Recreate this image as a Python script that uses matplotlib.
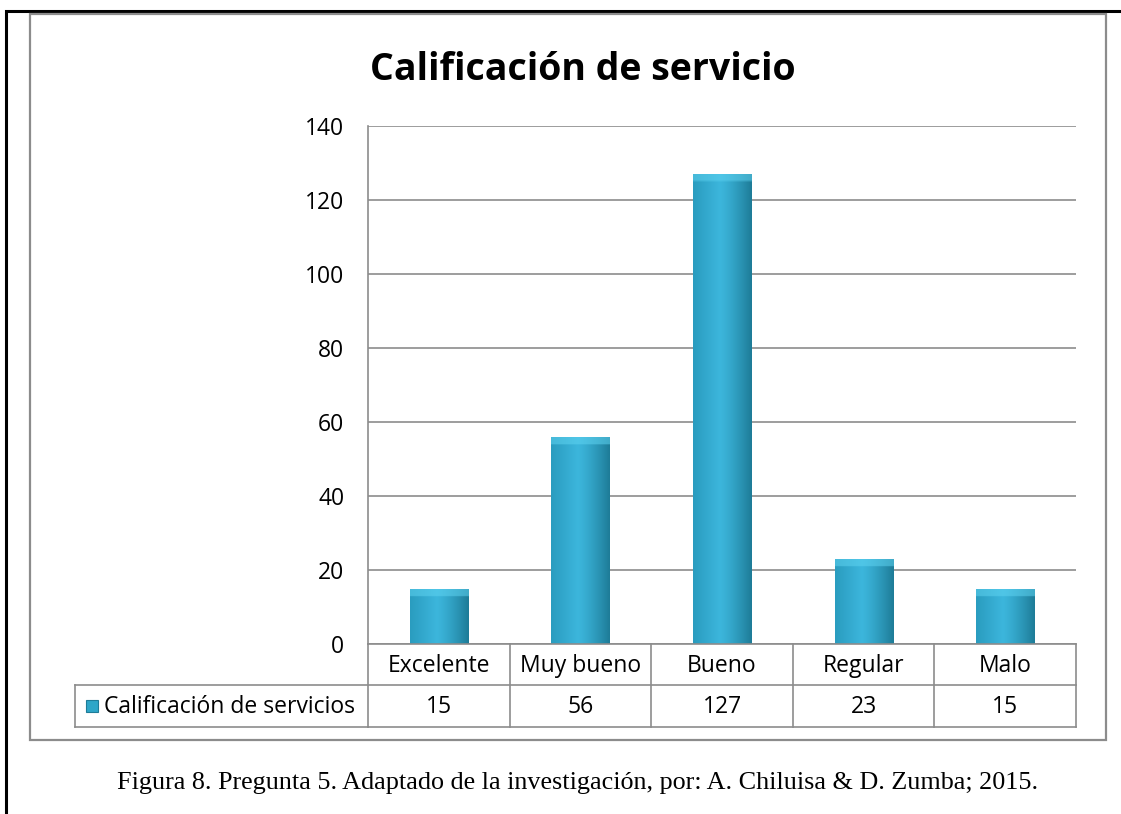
import numpy as np
import matplotlib
matplotlib.use("Agg")
import matplotlib.pyplot as plt
from matplotlib.lines import Line2D
from matplotlib.patches import Rectangle
from matplotlib.transforms import blended_transform_factory

categories = ["Excelente", "Muy bueno", "Bueno", "Regular", "Malo"]
values = [15, 56, 127, 23, 15]
series_name = "Calificación de servicios"
title = "Calificación de servicio"
caption = "Figura 8. Pregunta 5. Adaptado de la investigación, por: A. Chiluisa & D. Zumba; 2015."
yticks = [0, 20, 40, 60, 80, 100, 120, 140]

W, H = 1121, 814
fig = plt.figure(figsize=(W / 100, H / 100), dpi=100)
fig.patch.set_facecolor("white")

def fx(x):
    return x / W

def fy(y):
    return 1 - y / H

FONT = "Open Sans"
FS = 16.5
GRID = "#8c8c8c"

# outer black frame and inner grey chart frame
fig.add_artist(Rectangle((fx(6), fy(830)), fx(1130) - fx(6), fy(11) - fy(830),
                         transform=fig.transFigure, fill=False, ec="black", lw=2.2))
fig.add_artist(Rectangle((fx(30), fy(740)), fx(1106) - fx(30), fy(14) - fy(740),
                         transform=fig.transFigure, fill=False, ec="#8c8c8c", lw=1.6))

# plot area
ax = fig.add_axes([fx(368), fy(644), fx(1076) - fx(368), fy(126) - fy(644)])
ax.set_xlim(-0.5, len(categories) - 0.5)
ax.set_ylim(0, 140)
ax.set_yticks(yticks)
ax.set_yticklabels([str(t) for t in yticks], fontsize=FS, family=FONT)
ax.tick_params(axis="y", length=0, pad=17)
ax.set_xticks([])
for s in ["top", "right", "bottom"]:
    ax.spines[s].set_visible(False)
ax.spines["left"].set_color(GRID)
ax.spines["left"].set_linewidth(1.2)
ax.grid(axis="y", color=GRID, lw=1.2)
ax.set_axisbelow(True)

x = np.arange(len(categories))
bars = ax.bar(x, values, width=0.41, color="#2ea6c8", zorder=3)

# gradient fill on each bar
prof_x = np.linspace(0, 1, 60)
c_light = np.array([0x3c, 0xb6, 0xdc]) / 255
c_dark = np.array([0x1e, 0x7c, 0x98]) / 255
c_left = np.array([0x2a, 0x9c, 0xbf]) / 255
for b in bars:
    x0, w, h = b.get_x(), b.get_width(), b.get_height()
    n = 200
    img = np.zeros((n, 60, 3))
    for j, t in enumerate(prof_x):
        if t < 0.45:
            c = c_left + (c_light - c_left) * (t / 0.45)
        else:
            c = c_light + (c_dark - c_light) * ((t - 0.45) / 0.55) ** 1.3
        img[:, j, :] = c
    px_per_unit = (644 - 126) / 140
    bevel = max(1, int(round(n * (8 / px_per_unit) / h)))
    top_col = np.array([0x5e, 0xd2, 0xf0]) / 255
    for i in range(min(bevel, n)):
        img[i] = img[i] * 0.45 + top_col * 0.55
    im = ax.imshow(img, extent=(x0, x0 + w, 0, h), aspect="auto", zorder=4,
                   interpolation="bilinear", origin="upper")
    im.set_clip_path(b)
ax.set_xlim(-0.5, len(categories) - 0.5)
ax.set_ylim(0, 140)

# data table below the plot
bt = blended_transform_factory(ax.transData, fig.transFigure)
y_top, y_mid, y_bot = fy(644), fy(685), fy(727)
bounds = np.arange(len(categories) + 1) - 0.5
lw_t = 1.2
fig.add_artist(Line2D([-0.5, len(categories) - 0.5], [y_top, y_top], transform=bt, color=GRID, lw=lw_t))
fig.add_artist(Line2D([-0.5, len(categories) - 0.5], [y_bot, y_bot], transform=bt, color=GRID, lw=lw_t))
fig.add_artist(Line2D([fx(75), fx(1076)], [y_mid, y_mid], transform=fig.transFigure, color=GRID, lw=lw_t))
fig.add_artist(Line2D([fx(75), fx(368)], [y_bot, y_bot], transform=fig.transFigure, color=GRID, lw=lw_t))
fig.add_artist(Line2D([fx(75), fx(75)], [y_mid, y_bot], transform=fig.transFigure, color=GRID, lw=lw_t))
for bx in bounds:
    fig.add_artist(Line2D([bx, bx], [y_top, y_bot], transform=bt, color=GRID, lw=lw_t))
row1_y = fy(666)
row2_y = fy(707)
for xi, cat, v in zip(x, categories, values):
    fig.text(xi, row1_y, cat, transform=bt, ha="center", va="center",
             fontsize=FS, family=FONT)
    fig.text(xi, row2_y, str(v), transform=bt, ha="center", va="center",
             fontsize=FS, family=FONT)

# legend key in table
fig.add_artist(Rectangle((fx(86), fy(712)), fx(98) - fx(86), fy(700) - fy(712),
                         transform=fig.transFigure, fc="#2ea6c8", ec="#1e7c98", lw=0.8))
fig.text(fx(104), row2_y, series_name, transform=fig.transFigure,
         ha="left", va="center", fontsize=FS, family=FONT)

# title and caption
fig.text(fx(583), fy(70), title, ha="center", va="center", fontsize=27,
         fontweight="bold", family=FONT)
fig.text(fx(578), fy(783), caption, ha="center", va="center", fontsize=18.8,
         family="Liberation Serif")

fig.savefig("out.png", dpi=100)
